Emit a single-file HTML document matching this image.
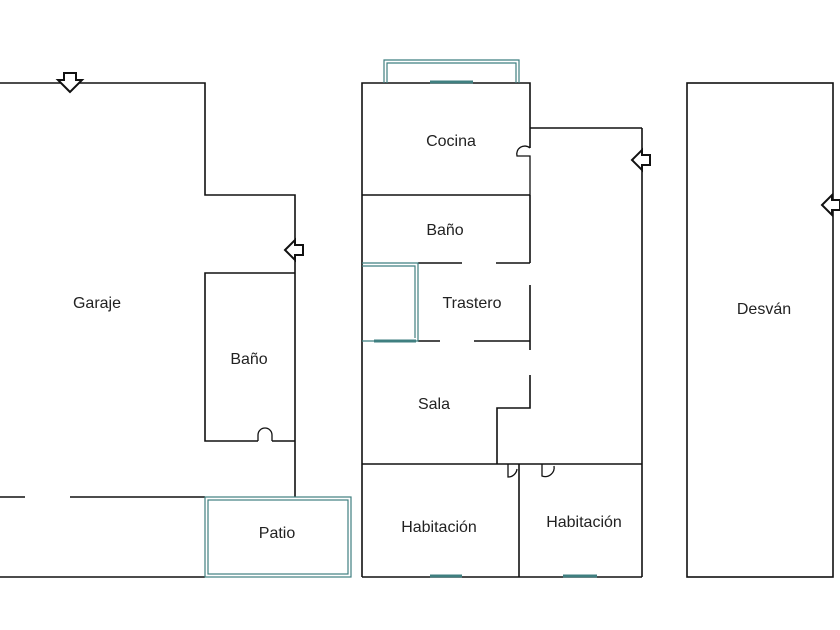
<!DOCTYPE html>
<html><head><meta charset="utf-8"><style>
html,body{margin:0;padding:0;background:#fff;}
svg{display:block;}
text{font-family:"Liberation Sans",sans-serif;font-size:16px;fill:#222;text-anchor:middle;}
</style></head><body>
<svg width="840" height="630" viewBox="0 0 840 630" xmlns="http://www.w3.org/2000/svg">
<g fill="none" stroke="#111" stroke-width="1.6">
<!-- left building -->
<polyline points="0,83 205,83 205,195 295,195 295,497"/>
<polyline points="295,273 205,273 205,441 258,441"/>
<line x1="272" y1="441" x2="295" y2="441"/>
<path d="M258,441 V435 A7,7 0 0 1 272,435 V441" stroke-width="1.3"/>
<line x1="0" y1="497" x2="25" y2="497"/>
<line x1="70" y1="497" x2="205" y2="497"/>
<line x1="0" y1="577" x2="205" y2="577"/>
<!-- middle building -->
<polyline points="362,577 362,83 530,83 530,148"/>
<path d="M530,148 A8,8 0 0 0 517,156 H530 V195" stroke-width="1.3"/>
<line x1="530" y1="128" x2="642" y2="128"/>
<line x1="642" y1="128" x2="642" y2="577"/>
<line x1="362" y1="195" x2="530" y2="195"/>
<line x1="530" y1="195" x2="530" y2="263"/>
<line x1="418" y1="263" x2="462" y2="263"/>
<line x1="496" y1="263" x2="530" y2="263"/>
<line x1="530" y1="285" x2="530" y2="350"/>
<line x1="418" y1="341" x2="440" y2="341"/>
<line x1="474" y1="341" x2="530" y2="341"/>
<polyline points="530,375 530,408 497,408 497,464"/>
<line x1="362" y1="464" x2="642" y2="464"/>
<line x1="519" y1="464" x2="519" y2="577"/>
<line x1="362" y1="577" x2="642" y2="577"/>
<path d="M508,464 V477 A9,9 0 0 0 517,469" stroke-width="1.3"/>
<path d="M542,464 V476 A9,9 0 0 0 554,466" stroke-width="1.3"/>
<!-- desvan -->
<rect x="687" y="83" width="146" height="494"/>
</g>
<!-- teal elements -->
<g fill="none" stroke="#3f7f80" stroke-width="1.2">
<rect x="205" y="497" width="146" height="80"/>
<rect x="208" y="500" width="140" height="74"/>
<polyline points="384,83 384,60 519,60 519,83"/>
<polyline points="387,83 387,63 516,63 516,83"/>
<line x1="430" y1="82" x2="473" y2="82" stroke-width="3"/>
<polyline points="362,263 418,263 418,341 362,341"/>
<polyline points="362,266 415,266 415,338"/>
<line x1="374" y1="341" x2="416" y2="341" stroke-width="3"/>
<line x1="430" y1="576" x2="462" y2="576" stroke-width="3"/>
<line x1="563" y1="576" x2="597" y2="576" stroke-width="3"/>
</g>
<!-- arrows -->
<g fill="#fff" stroke="#111" stroke-width="2">
<polygon points="70,92 58,80 64,80 64,73 76,73 76,80 82,80"/>
<polygon points="285,250 295,240 295,245 303,245 303,255 295,255 295,260"/>
<polygon points="632,160 642,150 642,155 650,155 650,165 642,165 642,170"/>
<polygon points="822,205 832,195 832,200 840,200 840,210 832,210 832,215"/>
</g>
<text x="97" y="308">Garaje</text>
<text x="249" y="364">Baño</text>
<text x="277" y="538">Patio</text>
<text x="451" y="146">Cocina</text>
<text x="445" y="235">Baño</text>
<text x="472" y="308">Trastero</text>
<text x="434" y="409">Sala</text>
<text x="439" y="532">Habitación</text>
<text x="584" y="527">Habitación</text>
<text x="764" y="314">Desván</text>
</svg>
</body></html>
